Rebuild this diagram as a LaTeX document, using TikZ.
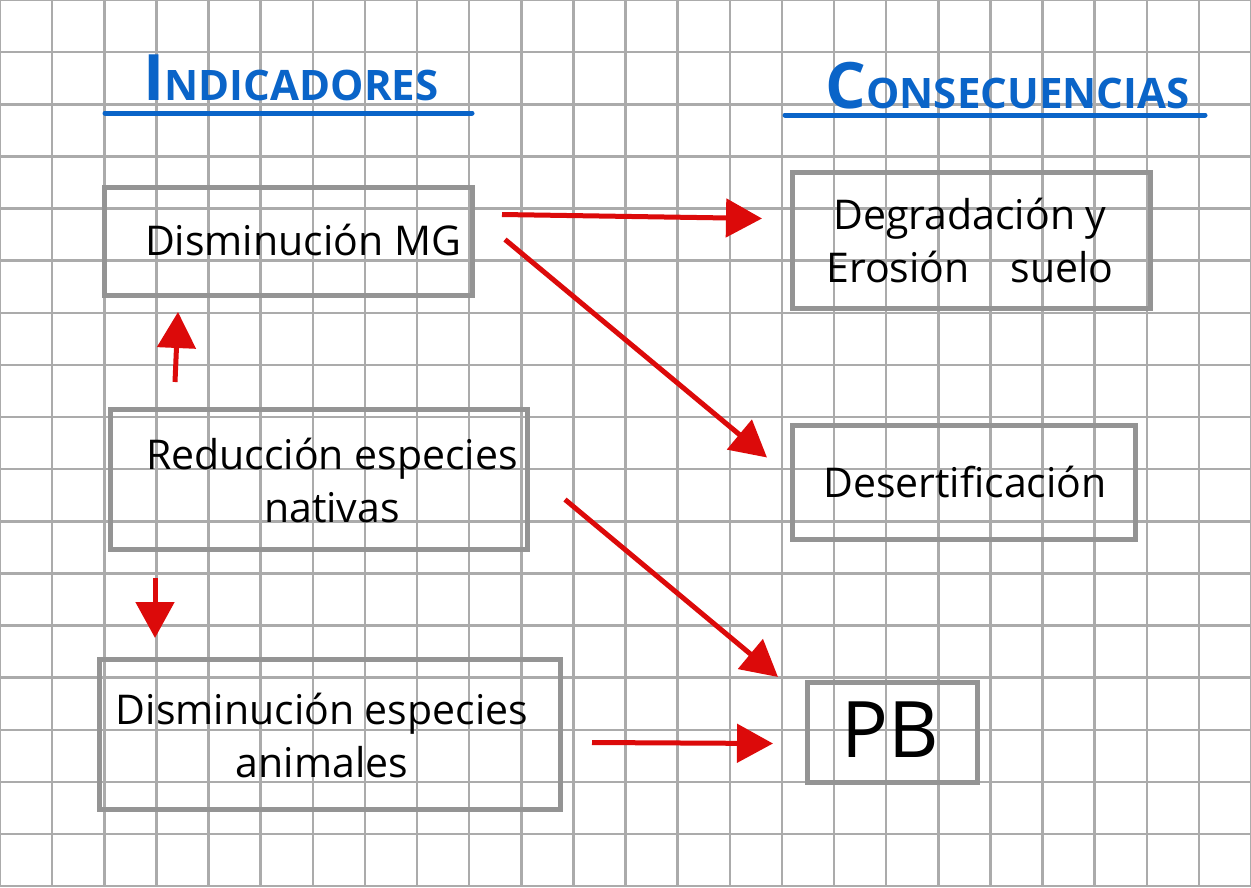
\documentclass[tikz,border=0pt]{standalone}
\usepackage{fontspec}
\setmainfont{Open Sans}
\usetikzlibrary{arrows.meta}
\definecolor{gridgray}{HTML}{ABABAB}
\definecolor{boxgray}{HTML}{949494}
\definecolor{penred}{HTML}{DC0A0A}
\definecolor{penblue}{HTML}{0A64C8}
\tikzset{
  box/.style={draw=boxgray, line width=5pt, inner sep=0pt, anchor=north west},
  hand/.style={font=\fontsize{41}{53}\selectfont, text=black, align=center},
  link/.style={draw=penred, line width=5pt, -{Triangle[length=36pt,width=38pt]}},
  heading/.style={text=penblue, anchor=base west, font=\bfseries},
  rule/.style={draw=penblue, line width=5pt, line cap=round},
}
\newcommand{\scword}[2]{{\fontsize{64}{64}\selectfont #1}{\fontsize{42}{42}\selectfont #2}}
\begin{document}
\begin{tikzpicture}[x=1pt,y=-1pt]
\useasboundingbox (0,0) rectangle (1251,887);
\fill[white] (0,0) rectangle (1251,887);
% squared paper
\foreach \i in {0,...,24} \draw[gridgray, line width=2.5pt] ({\i*52.125},0) -- ({\i*52.125},887);
\foreach \j in {0,...,17} \draw[gridgray, line width=2.5pt] (0,{\j*52.125}) -- (1251,{\j*52.125});

% column headings
\node[heading] (hind) at (140,100) {\scword{I}{NDICADORES}};
\node[heading] (hcon) at (822,108) {\scword{C}{ONSECUENCIAS}};
\draw[rule] (105,113) -- (472,113);
\draw[rule] (785,115) -- (1205,115);

% indicator boxes
\node[box, minimum width=368pt, minimum height=108pt] (b1) at (102,185) {};
\node[hand] at (303,240) {Disminución MG};
\node[box, minimum width=417pt, minimum height=140pt] (b2) at (108,407) {};
\node[hand] at (332,480) {Reducción especies\\nativas};
\node[box, minimum width=461pt, minimum height=150pt] (b3) at (97,657) {};
\node[hand] at (322,735) {Disminución especies\\animales};

% consequence boxes
\node[box, minimum width=358pt, minimum height=136pt] (b4) at (790,170) {};
\node[hand] at (970,240) {Degradación y\\Erosión\quad suelo};
\node[box, minimum width=343pt, minimum height=114pt] (b5) at (790,423) {};
\node[hand] at (965,482) {Desertificación};
\node[box, minimum width=170pt, minimum height=100pt] (b6) at (805,680) {};
\node[hand, font=\fontsize{78}{78}\selectfont] at (890,730) {PB};

% cause-effect arrows
\draw[link] ([xshift=27pt,yshift=27pt]b1.east) -- ([xshift=-28pt,yshift=22pt]b4.west);
\draw[link] ([xshift=30pt,yshift=2pt]b1.east) -- ([xshift=-23pt,yshift=25pt]b5.west);
\draw[link] ([xshift=67pt,yshift=25pt]b2.north west) -- ([xshift=76pt,yshift=-14pt]b1.south west);
\draw[link] ([xshift=47pt,yshift=-26pt]b2.south west) -- ([xshift=58pt,yshift=19pt]b3.north west);
\draw[link] ([xshift=35pt,yshift=-20pt]b2.east) -- ([xshift=-27pt,yshift=3pt]b6.north west);
\draw[link] ([xshift=29pt,yshift=-8pt]b3.east) -- ([xshift=-32pt,yshift=-11pt]b6.west);
\end{tikzpicture}
\end{document}
